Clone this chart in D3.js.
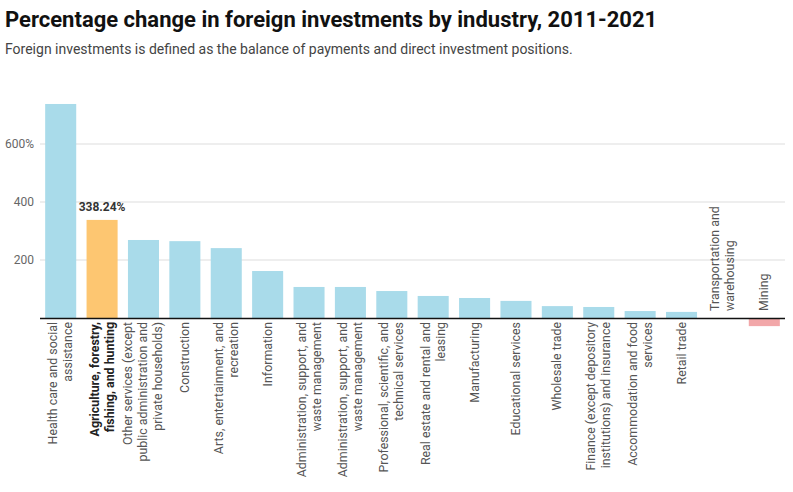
<!DOCTYPE html>
<html><head><meta charset="utf-8">
<script src="https://cdn.jsdelivr.net/npm/d3@7"></script>
<style>body{margin:0;background:#fff;font-family:Roboto,sans-serif;}</style>
</head><body>
<svg id="c" width="793" height="492"></svg>
<script>
const categories = [
  ["Health care and social","assistance"],
  ["Agriculture, forestry,","fishing, and hunting"],
  ["Other services (except","public administration and","private households)"],
  ["Construction"],
  ["Arts, entertainment, and","recreation"],
  ["Information"],
  ["Administration, support, and","waste management"],
  ["Administration, support, and","waste management"],
  ["Professional, scientific, and","technical services"],
  ["Real estate and rental and","leasing"],
  ["Manufacturing"],
  ["Educational services"],
  ["Wholesale trade"],
  ["Finance (except depository","institutions) and insurance"],
  ["Accommodation and food","services"],
  ["Retail trade"],
  ["Transportation and","warehousing"],
  ["Mining"]
];
const values = [738, 338.24, 269, 265, 241, 162, 107, 107, 93, 76, 69, 59, 41, 38, 24, 21, -0.5, -28];
const highlightIndex = 1;
const yTicks = [200, 400, 600];

const svg = d3.select("#c");
svg.append("text").attr("x",5).attr("y",27).attr("font-size",22).attr("font-weight",700)
  .attr("fill","#111").text("Percentage change in foreign investments by industry, 2011-2021");
svg.append("text").attr("x",5).attr("y",54).attr("font-size",14).attr("fill","#444")
  .text("Foreign investments is defined as the balance of payments and direct investment positions.");

const x = d3.scaleBand().domain(d3.range(values.length)).range([40,785]).paddingInner(0.25).paddingOuter(0.125);
const y = d3.scaleLinear().domain([0,600]).range([318,144]);

const g = svg.append("g");
g.selectAll("line.grid").data(yTicks).join("line").attr("class","grid")
  .attr("x1",40).attr("x2",785).attr("y1",d=>y(d)).attr("y2",d=>y(d))
  .attr("stroke","#ddd").attr("stroke-width",1);
g.selectAll("text.yl").data(yTicks).join("text").attr("class","yl")
  .attr("x",34).attr("y",d=>y(d)+4).attr("text-anchor","end").attr("font-size",12).attr("fill","#666")
  .text(d=>d===600? d+"%" : d);

g.selectAll("rect").data(values).join("rect")
  .attr("x",(d,i)=>x(i)).attr("width",x.bandwidth())
  .attr("y",d=>y(Math.max(0,d))).attr("height",d=>Math.abs(y(d)-y(0)))
  .attr("fill",(d,i)=> i===highlightIndex ? "#fdc671" : (d<0 ? "#f2a7a9" : "#a9dbea"));

svg.append("line").attr("x1",40).attr("x2",785).attr("y1",y(0)+0.5).attr("y2",y(0)+0.5)
  .attr("stroke","#111").attr("stroke-width",1.3);

// value label
svg.append("text").attr("x",x(highlightIndex)+x.bandwidth()/2).attr("y",y(values[highlightIndex])-9)
  .attr("text-anchor","middle").attr("font-size",12).attr("font-weight",700).attr("fill","#333")
  .text(d3.format(".2f")(values[highlightIndex])+"%");

// category labels
const lh = 15;
categories.forEach((lines,i)=>{
  const cx = x(i)+x.bandwidth()/2;
  const n = lines.length;
  const above = values[i] <= 0;
  const ly = above ? y(0)-7 : y(0)+4;
  const t = svg.append("text")
    .attr("transform",`translate(${cx},${ly}) rotate(-90)`)
    .attr("text-anchor", above ? "start" : "end")
    .attr("font-size",12.4).attr("fill", i===highlightIndex ? "#222" : "#555")
    .attr("font-weight", i===highlightIndex ? 700 : 400);
  lines.forEach((l,k)=>{
    t.append("tspan").attr("x",0).attr("y",(k-(n-1)/2)*lh+4).text(l);
  });
});
</script>
</body></html>
